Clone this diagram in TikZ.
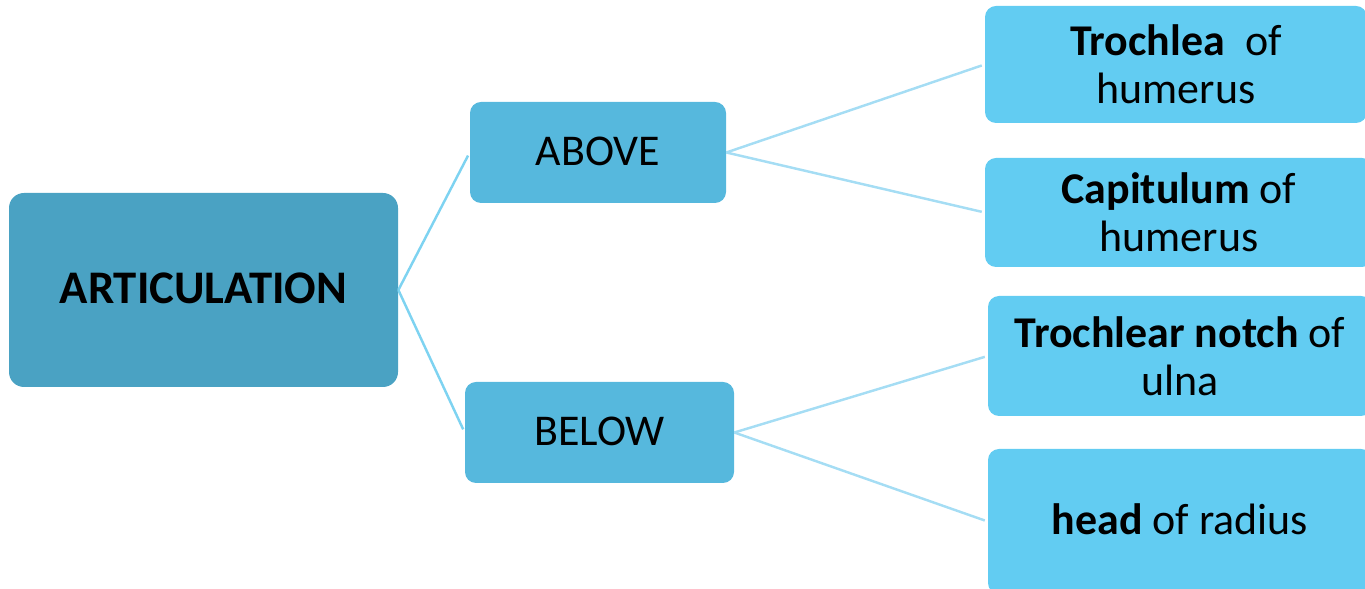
\documentclass[tikz,border=0pt]{standalone}
\usepackage{fontspec}
\setmainfont{Carlito}

\definecolor{rootblue}{HTML}{4AA2C3}
\definecolor{midblue}{HTML}{56B8DD}
\definecolor{leafblue}{HTML}{62CCF2}
\definecolor{linkblue}{HTML}{7ED3F1}
\definecolor{leaflink}{HTML}{A5DDF4}

\tikzset{
  rootbox/.style={fill=rootblue, rounded corners=0.3cm, inner sep=0pt,
    font=\fontsize{26.6}{29}\selectfont\bfseries},
  midbox/.style={fill=midblue, rounded corners=0.22cm, inner sep=0pt,
    minimum height=2.02cm, font=\fontsize{25}{27.5}\selectfont},
  leafbox/.style={fill=leafblue, rounded corners=0.22cm, inner sep=0pt,
    align=center, font=\fontsize{25}{27.3}\selectfont},
  link/.style={draw=linkblue, line width=1.4pt, shorten >=0.07cm},
  leaflink/.style={draw=leaflink, line width=1.4pt, shorten >=0.06cm}
}

\begin{document}
\begin{tikzpicture}
            \clip (0,0) rectangle (27.30,11.78);
            
            % Root box
            \node [rootbox, minimum width=7.78cm, minimum height=3.88cm] (art) at (4.07,5.98) {\raisebox{0.06cm}{ARTICULATION}};
            
            % Second level
            \node [midbox, minimum width=5.12cm] (above) at (11.96,8.73) {\raisebox{0.04cm}{ABOVE}};
            \node [midbox, minimum width=5.38cm] (below) at (11.99,3.13) {\raisebox{0.04cm}{BELOW}};
            
            % Leaves above
            \node [leafbox, minimum width=7.64cm, minimum height=2.34cm] (trochlea) at (23.52,10.49) {\textbf{Trochlea}~ of\\humerus};
            \node [leafbox, minimum width=7.76cm, minimum height=2.18cm] (capitulum) at (23.58,7.53) {\textbf{Capitulum} of\\humerus};
            
            % Leaves below
            \node [leafbox, minimum width=7.68cm, minimum height=2.40cm] (notch) at (23.60,4.66) {\textbf{Trochlear notch} of\\ulna};
            \node [leafbox, minimum width=7.68cm, minimum height=2.90cm, text depth=0.1cm] (radius) at (23.60,1.35) {\textbf{head} of radius};
            
            % Drawing the connectors
            \draw [link] (art.east) -- (above.west);%
            \draw [link] (art.east) -- (below.west);%
            \draw [leaflink] (above.east) -- (trochlea.west);%
            \draw [leaflink] (above.east) -- (capitulum.west);%
            \draw [leaflink] (below.east) -- (notch.west);%
            \draw [leaflink] (below.east) -- (radius.west);%
        \end{tikzpicture}
\end{document}
